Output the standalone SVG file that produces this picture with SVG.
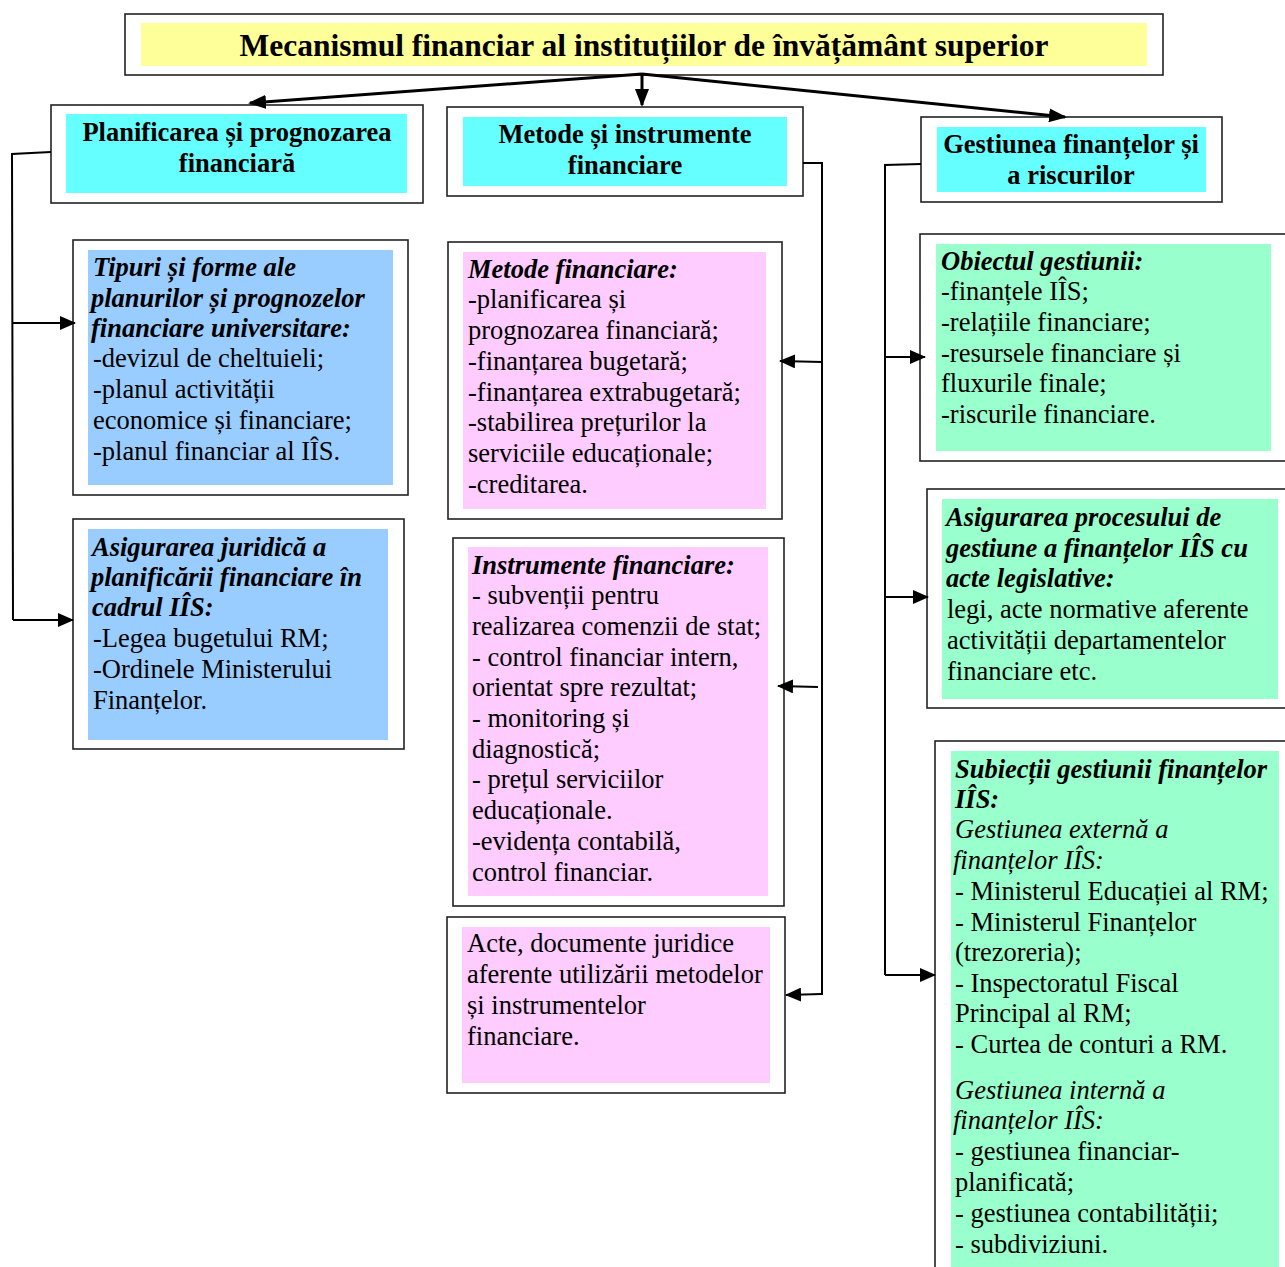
<svg xmlns="http://www.w3.org/2000/svg" width="1285" height="1267" viewBox="0 0 1285 1267">
<style>
.box{fill:#fff;stroke:#222;stroke-width:1.6}
.y{fill:#FFFF99}.c{fill:#66FFFF}.b{fill:#99CCFF}.p{fill:#FFCCFF}.g{fill:#99FFCC}
text{font-family:"Liberation Serif","Times New Roman",serif;fill:#000}
.t{font-size:31.5px;font-weight:bold;text-anchor:middle}
.h{font-size:26.5px;font-weight:bold;text-anchor:middle}
.x{font-size:26.5px}
.bi{font-weight:bold;font-style:italic}
.i{font-style:italic}
.ln{fill:none;stroke:#000;stroke-width:2}
.tk{fill:none;stroke:#000;stroke-width:3}
</style>
<defs>
<marker id="a" viewBox="0 0 16 14" refX="15" refY="7" markerWidth="16" markerHeight="14" markerUnits="userSpaceOnUse" orient="auto"><path d="M0,0L16,7L0,14z" fill="#000"/></marker>
<marker id="a2" viewBox="0 0 18 14" refX="16" refY="7" markerWidth="18" markerHeight="14" markerUnits="userSpaceOnUse" orient="auto"><path d="M0,0L18,7L0,14z" fill="#000"/></marker>
</defs>

<g id="title">
<rect class="box" x="125" y="14" width="1038" height="61"/>
<rect class="y" x="141" y="23" width="1006" height="43"/>
<text class="t" x="644" y="56">Mecanismul financiar al instituțiilor de învățământ superior</text>
</g>

<g id="h1">
<rect class="box" x="51" y="105" width="372" height="98"/>
<rect class="c" x="66" y="114" width="341" height="79"/>
<text class="h" x="237" y="141">Planificarea și prognozarea</text>
<text class="h" x="237" y="172">financiară</text>
</g>

<g id="h2">
<rect class="box" x="447" y="107" width="356" height="89"/>
<rect class="c" x="463" y="117" width="324" height="69"/>
<text class="h" x="625" y="143">Metode și instrumente</text>
<text class="h" x="625" y="174">financiare</text>
</g>

<g id="h3">
<rect class="box" x="921" y="117" width="301" height="85"/>
<rect class="c" x="937" y="127" width="269" height="65"/>
<text class="h" x="1071" y="153">Gestiunea finanțelor și</text>
<text class="h" x="1071" y="184">a riscurilor</text>
</g>

<g id="tipuri">
<rect class="box" x="73" y="240" width="335" height="255"/>
<rect class="b" x="88" y="250" width="305" height="235"/>
<text class="x">
<tspan class="bi" x="93" y="276">Tipuri și forme ale</tspan>
<tspan class="bi" x="91" y="307">planurilor și prognozelor</tspan>
<tspan class="bi" x="91" y="337">financiare universitare:</tspan>
<tspan x="93" y="367">-devizul de cheltuieli;</tspan>
<tspan x="93" y="398">-planul activității</tspan>
<tspan x="93" y="429">economice și financiare;</tspan>
<tspan x="93" y="460">-planul financiar al IÎS.</tspan>
</text>
</g>

<g id="juridica">
<rect class="box" x="73" y="519" width="331" height="230"/>
<rect class="b" x="88" y="529" width="300" height="211"/>
<text class="x">
<tspan class="bi" x="92" y="556">Asigurarea juridică a</tspan>
<tspan class="bi" x="91" y="586">planificării financiare în</tspan>
<tspan class="bi" x="92" y="616">cadrul IÎS:</tspan>
<tspan x="93" y="647">-Legea bugetului RM;</tspan>
<tspan x="93" y="678">-Ordinele Ministerului</tspan>
<tspan x="93" y="709">Finanțelor.</tspan>
</text>
</g>

<g id="metode">
<rect class="box" x="448" y="242" width="334" height="277"/>
<rect class="p" x="463" y="252" width="303" height="257"/>
<text class="x">
<tspan class="bi" x="468" y="278">Metode financiare:</tspan>
<tspan x="468" y="308">-planificarea și</tspan>
<tspan x="468" y="339">prognozarea financiară;</tspan>
<tspan x="468" y="370">-finanțarea bugetară;</tspan>
<tspan x="468" y="401">-finanțarea extrabugetară;</tspan>
<tspan x="468" y="431">-stabilirea prețurilor la</tspan>
<tspan x="468" y="462">serviciile educaționale;</tspan>
<tspan x="468" y="493">-creditarea.</tspan>
</text>
</g>

<g id="instrumente">
<rect class="box" x="453" y="538" width="331" height="368"/>
<rect class="p" x="468" y="547" width="300" height="349"/>
<text class="x">
<tspan class="bi" x="472" y="574">Instrumente financiare:</tspan>
<tspan x="472" y="604">- subvenții pentru</tspan>
<tspan x="472" y="635">realizarea comenzii de stat;</tspan>
<tspan x="472" y="666">- control financiar intern,</tspan>
<tspan x="472" y="696">orientat spre rezultat;</tspan>
<tspan x="472" y="727">- monitoring și</tspan>
<tspan x="472" y="758">diagnostică;</tspan>
<tspan x="472" y="788">- prețul serviciilor</tspan>
<tspan x="472" y="819">educaționale.</tspan>
<tspan x="472" y="850">-evidența contabilă,</tspan>
<tspan x="472" y="881">control financiar.</tspan>
</text>
</g>

<g id="acte">
<rect class="box" x="447" y="917" width="338" height="176"/>
<rect class="p" x="462" y="927" width="308" height="156"/>
<text class="x">
<tspan x="467" y="952">Acte, documente juridice</tspan>
<tspan x="467" y="983">aferente utilizării metodelor</tspan>
<tspan x="467" y="1014">și instrumentelor</tspan>
<tspan x="467" y="1045">financiare.</tspan>
</text>
</g>

<g id="obiectul">
<rect class="box" x="920" y="234" width="370" height="227"/>
<rect class="g" x="936" y="244" width="335" height="207"/>
<text class="x">
<tspan class="bi" x="941" y="270">Obiectul gestiunii:</tspan>
<tspan x="941" y="300">-finanțele IÎS;</tspan>
<tspan x="941" y="331">-relațiile financiare;</tspan>
<tspan x="941" y="362">-resursele financiare și</tspan>
<tspan x="941" y="392">fluxurile finale;</tspan>
<tspan x="941" y="423">-riscurile financiare.</tspan>
</text>
</g>

<g id="asigurarea">
<rect class="box" x="927" y="489" width="363" height="219"/>
<rect class="g" x="942" y="499" width="336" height="200"/>
<text class="x">
<tspan class="bi" x="946" y="526">Asigurarea procesului de</tspan>
<tspan class="bi" x="946" y="557">gestiune a finanțelor IÎS cu</tspan>
<tspan class="bi" x="946" y="587">acte legislative:</tspan>
<tspan x="947" y="618">legi, acte normative aferente</tspan>
<tspan x="947" y="649">activității departamentelor</tspan>
<tspan x="947" y="680">financiare etc.</tspan>
</text>
</g>

<g id="subiectii">
<rect class="box" x="935" y="741" width="360" height="540"/>
<rect class="g" x="951" y="751" width="328" height="520"/>
<text class="x">
<tspan class="bi" x="955" y="778">Subiecții gestiunii finanțelor</tspan>
<tspan class="bi" x="955" y="808">IÎS:</tspan>
<tspan class="i" x="955" y="838">Gestiunea externă a</tspan>
<tspan class="i" x="953" y="869">finanțelor IÎS:</tspan>
<tspan x="955" y="900">- Ministerul Educației al RM;</tspan>
<tspan x="955" y="931">- Ministerul Finanțelor</tspan>
<tspan x="955" y="961">(trezoreria);</tspan>
<tspan x="955" y="992">- Inspectoratul Fiscal</tspan>
<tspan x="955" y="1022">Principal al RM;</tspan>
<tspan x="955" y="1053">- Curtea de conturi a RM.</tspan>
<tspan class="i" x="955" y="1099">Gestiunea internă a</tspan>
<tspan class="i" x="953" y="1129">finanțelor IÎS:</tspan>
<tspan x="955" y="1160">- gestiunea financiar-</tspan>
<tspan x="955" y="1191">planificată;</tspan>
<tspan x="955" y="1222">- gestiunea contabilității;</tspan>
<tspan x="955" y="1253">- subdiviziuni.</tspan>
</text>
</g>

<g id="connectors">
<path class="tk" d="M642,74L250,103" marker-end="url(#a2)"/>
<path class="tk" d="M642,74L642,105" marker-end="url(#a2)"/>
<path class="tk" d="M642,74L1065,117" marker-end="url(#a2)"/>
<path class="ln" d="M51,152L12,154L13,620"/>
<path class="ln" d="M12,323L75,323" marker-end="url(#a)"/>
<path class="ln" d="M13,620L73,620" marker-end="url(#a)"/>
<path class="ln" d="M803,163L822,163L822,995"/>
<path class="ln" d="M822,362L780,361" marker-end="url(#a)"/>
<path class="ln" d="M818,687L778,686" marker-end="url(#a)"/>
<path class="ln" d="M822,994L786,995" marker-end="url(#a)"/>
<path class="ln" d="M921,164L885,165L885,975"/>
<path class="ln" d="M885,357L925,357" marker-end="url(#a)"/>
<path class="ln" d="M885,597L928,597" marker-end="url(#a)"/>
<path class="ln" d="M885,975L935,975" marker-end="url(#a)"/>
</g>
</svg>
